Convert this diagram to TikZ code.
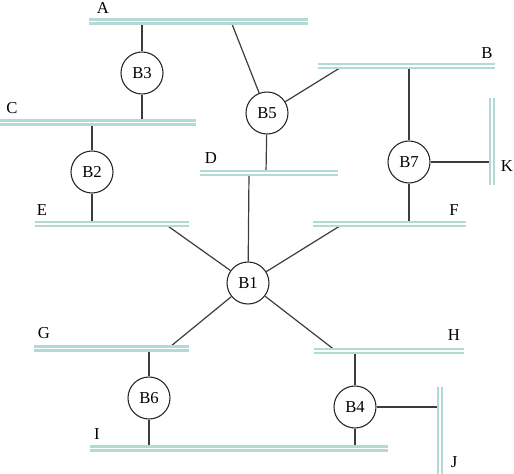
\documentclass[tikz,border=0pt]{standalone}
\usepackage{fontspec}
\setmainfont{Liberation Serif}
\definecolor{barcol}{HTML}{B3DAD5}
\definecolor{linecol}{HTML}{3C3C3C}
\tikzset{
  bar/.style={draw=barcol, line width=1.6pt, double=white, double distance=1.4pt},
  conn/.style={draw=linecol, line width=0.9pt},
  bnode/.style={circle, draw=black!85, line width=0.8pt, fill=white, minimum size=31.5pt, inner sep=0pt, font=\fontsize{12.5}{14}\selectfont},
  lbl/.style={font=\fontsize{12.5}{14}\selectfont, inner sep=0pt}
}
\begin{document}
\begin{tikzpicture}[x=0.75pt,y=-0.75pt]
\useasboundingbox (0,0) rectangle (514,474);
% attach coordinates on bars
\coordinate (A1) at (142,21.5); \coordinate (A2) at (231,21.5);
\coordinate (Bb1) at (343,66); \coordinate (Bb2) at (409,66);
\coordinate (C1) at (142,122.5); \coordinate (C2) at (92,122.5);
\coordinate (D1) at (266,173); \coordinate (D2) at (249,173);
\coordinate (E1) at (92,224); \coordinate (E2) at (165,224);
\coordinate (F1) at (409,224); \coordinate (F2) at (343,224);
\coordinate (G1) at (168,348.5); \coordinate (G2) at (149,348.5);
\coordinate (H1) at (336,351); \coordinate (H2) at (355,351);
\coordinate (I1) at (149,448.5); \coordinate (I2) at (355,448.5);
\coordinate (J1) at (440,407);
\coordinate (K1) at (492,162);
% circles
\node[bnode] (B1) at (248,283) {B1};
\node[bnode] (B2) at (92,172) {B2};
\node[bnode] (B3) at (142,73) {B3};
\node[bnode] (B4) at (355,407) {B4};
\node[bnode] (B5) at (267,113) {B5};
\node[bnode] (B6) at (149,398) {B6};
\node[bnode] (B7) at (409,162) {B7};
% connectors
\draw[conn] (A1) -- (B3); \draw[conn] (B3) -- (C1);
\draw[conn] (C2) -- (B2); \draw[conn] (B2) -- (E1);
\draw[conn] (A2) -- (B5); \draw[conn] (B5) -- (Bb1); \draw[conn] (B5) -- (D1);
\draw[conn] (Bb2) -- (B7); \draw[conn] (B7) -- (F1); \draw[conn] (B7) -- (K1);
\draw[conn] (D2) -- (B1); \draw[conn] (E2) -- (B1); \draw[conn] (F2) -- (B1);
\draw[conn] (G1) -- (B1); \draw[conn] (H1) -- (B1);
\draw[conn] (G2) -- (B6); \draw[conn] (B6) -- (I1);
\draw[conn] (H2) -- (B4); \draw[conn] (B4) -- (I2); \draw[conn] (B4) -- (J1);
% bars
\draw[bar] (89,21.5) -- (308,21.5);
\draw[bar] (318,66) -- (495,66);
\draw[bar] (0,122.5) -- (196,122.5);
\draw[bar] (200,173) -- (338,173);
\draw[bar] (35,224) -- (189,224);
\draw[bar] (313,224) -- (466,224);
\draw[bar] (34,348.5) -- (189,348.5);
\draw[bar] (314,351) -- (464,351);
\draw[bar] (90,448.5) -- (388,448.5);
\draw[bar] (492,98) -- (492,185);
\draw[bar] (440,387) -- (440,474);
% labels
\node[lbl] (lA) at (103,8) {A};
\node[lbl] (lB) at (487,53) {B};
\node[lbl] (lC) at (12,108) {C};
\node[lbl] (lD) at (211,158) {D};
\node[lbl] (lE) at (42,210) {E};
\node[lbl] (lF) at (454,210) {F};
\node[lbl] (lG) at (44,333) {G};
\node[lbl] (lH) at (454,335) {H};
\node[lbl] (lI) at (97,434) {I};
\node[lbl] (lJ) at (454,462) {J};
\node[lbl] (lK) at (507,166) {K};
\end{tikzpicture}
\end{document}
